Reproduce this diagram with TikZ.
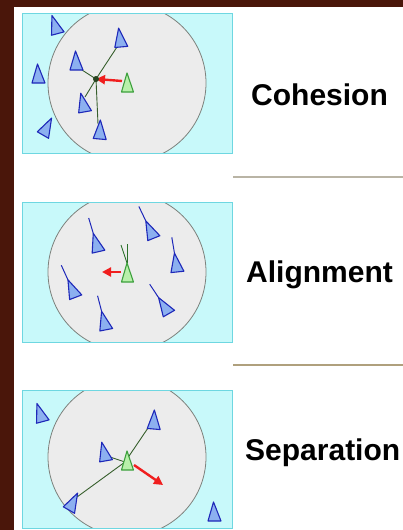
\documentclass[tikz,border=0pt]{standalone}
\usepackage{fontspec}
\setmainfont{Liberation Sans}
\usetikzlibrary{arrows.meta}
\definecolor{bgbrown}{RGB}{74,22,10}
\definecolor{cyanfill}{RGB}{200,249,250}
\definecolor{cyanedge}{RGB}{110,215,225}
\definecolor{circfill}{RGB}{236,236,236}
\definecolor{circedge}{RGB}{125,130,125}
\definecolor{boidfill}{RGB}{140,176,240}
\definecolor{boidedge}{RGB}{30,40,185}
\definecolor{greenfill}{RGB}{184,240,170}
\definecolor{greenedge}{RGB}{60,160,60}
\definecolor{linkcol}{RGB}{55,95,45}
\definecolor{arrowred}{RGB}{240,30,30}
\definecolor{sepA}{RGB}{185,180,165}
\definecolor{sepB}{RGB}{175,160,125}
\begin{document}
\begin{tikzpicture}[x=1pt,y=-1pt,
  panelbox/.style={draw=cyanedge,line width=0.8pt},
  zone/.style={fill=circfill,draw=circedge,line width=0.8pt},
  boidshape/.style={fill=boidfill,draw=boidedge,line width=1.1pt,line join=round},
  leadshape/.style={fill=greenfill,draw=greenedge,line width=1.1pt,line join=round},
  boid/.pic={\path[boidshape] (-0.5,-10) -- (7,9) -- (-6,9) -- cycle;},
  lead/.pic={\path[leadshape] (0,-10) -- (6.5,9) -- (-5.5,9) -- cycle;},
  tailboid/.pic={\draw[boidedge,line width=1pt] (-0.5,-10) -- (-1.5,-26);
                 \path[boidshape] (-0.5,-10) -- (7,9) -- (-6,9) -- cycle;},
  link/.style={draw=linkcol,line width=0.9pt},
  tailline/.style={draw=greenedge!70!black,line width=0.9pt},
  force/.style={draw=arrowred,line width=2.4pt,-{Triangle[length=9pt,width=9pt]}},
  label/.style={font=\bfseries\fontsize{30}{33}\selectfont,anchor=base west,inner sep=0pt},
  sepline/.style={line width=1.2pt}]
\useasboundingbox (0,0) rectangle (403,530);
\fill[bgbrown] (0,0) rectangle (403,530);
\fill[white] (14,7) rectangle (403,530);

% ---------------- Cohesion ----------------
\begin{scope}
  \clip (22,13) rectangle (232,153);
  \fill[cyanfill] (22,13) rectangle (232,153);
  \path[zone] (127,83) circle (79pt);
\end{scope}
\draw[panelbox] (22,13) rectangle (232,153);
\coordinate (c1) at (96,79);
\coordinate (c1a) at (117,47);
\coordinate (c1b) at (82,70);
\coordinate (c1c) at (85,97);
\coordinate (c1d) at (98,124);
\coordinate (g1) at (122,81);
\draw[link] (c1) -- (c1a);
\draw[link] (c1) -- (c1b);
\draw[link] (c1) -- (c1c);
\draw[link] (c1) -- (c1d);
\pic[rotate=15] at (55,25) {boid};
\pic[rotate=5] at (120,38) {boid};
\pic at (76,61) {boid};
\pic at (38,74) {boid};
\pic[rotate=10] at (83,103) {boid};
\pic[rotate=-30] at (47,127) {boid};
\pic[rotate=-5] at (100,130) {boid};
\pic at (127,83) {lead};
\draw[force] (g1) -- (c1);
\fill[linkcol!70!black] (c1) circle (3pt);
\node[label] (t1) at (251,105) {Cohesion};
\coordinate (s1a) at (233,177);
\coordinate (s1b) at (403,177);
\draw[sepline,sepA] (s1a) -- (s1b);

% ---------------- Alignment ----------------
\begin{scope}
  \clip (22,202) rectangle (232,342);
  \fill[cyanfill] (22,202) rectangle (232,342);
  \path[zone] (127,272) circle (79pt);
\end{scope}
\draw[panelbox] (22,202) rectangle (232,342);
\pic[rotate=13] at (96,243) {tailboid};
\pic[rotate=22] at (150,230) {tailboid};
\pic[rotate=6] at (176,263) {tailboid};
\pic[rotate=21] at (72,289) {tailboid};
\pic[rotate=11] at (104,321) {tailboid};
\pic[rotate=30] at (164,306) {tailboid};
\coordinate (g2) at (127,263);
\coordinate (g2a) at (121,245);
\coordinate (g2b) at (127,244);
\draw[tailline] (g2) -- (g2a);
\draw[tailline] (g2) -- (g2b);
\pic at (127,273) {lead};
\coordinate (a2s) at (121,272);
\coordinate (a2e) at (102,272);
\draw[force] (a2s) -- (a2e);
\node[label] (t2) at (246,282) {Alignment};
\coordinate (s2a) at (233,365);
\coordinate (s2b) at (403,365);
\draw[sepline,sepB] (s2a) -- (s2b);

% ---------------- Separation ----------------
\begin{scope}
  \clip (22,390) rectangle (232,528);
  \fill[cyanfill] (22,390) rectangle (232,528);
  \path[zone] (127,457) circle (79pt);
\end{scope}
\draw[panelbox] (22,390) rectangle (232,528);
\coordinate (g3) at (125,462);
\coordinate (b3) at (148,428);
\coordinate (c3) at (110,457);
\coordinate (d3) at (77,497);
\draw[link] (g3) -- (b3);
\draw[link] (g3) -- (c3);
\draw[link] (g3) -- (d3);
\pic[rotate=15] at (40,413) {boid};
\pic[rotate=-5] at (154,420) {boid};
\pic[rotate=10] at (104,452) {boid};
\pic[rotate=-30] at (73,502) {boid};
\pic at (214,512) {boid};
\pic at (127,461) {lead};
\coordinate (r3s) at (134,465);
\coordinate (r3e) at (163,485);
\draw[force] (r3s) -- (r3e);
\node[label] (t3) at (245,460) {Separation};
\end{tikzpicture}
\end{document}
